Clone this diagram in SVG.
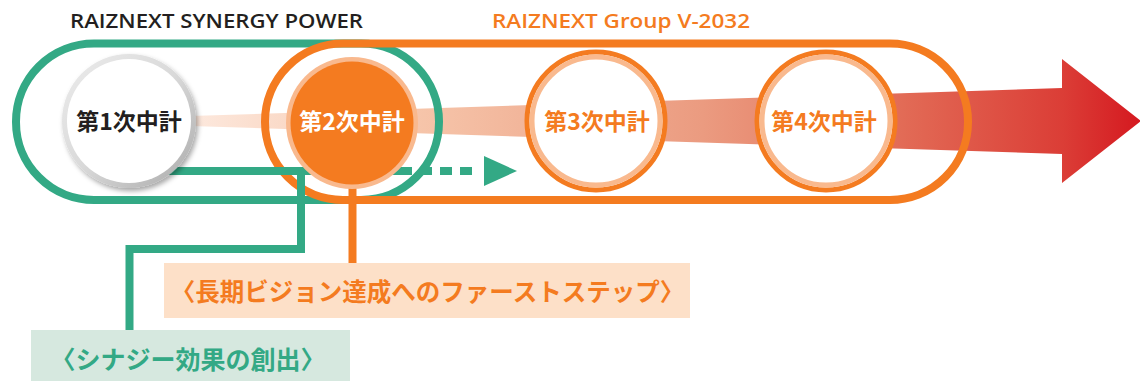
<svg xmlns="http://www.w3.org/2000/svg" width="1140" height="381" viewBox="0 0 1140 381">
  <style>
    .title { font-family: "Open Sans", "Liberation Sans", sans-serif; font-weight: 600; font-size: 20px; }
    .jp { font-family: "Noto Sans CJK JP", "Noto Sans", sans-serif; font-weight: 700; text-anchor: middle; }
    .circle-label { font-size: 23px; }
    .green-stroke { fill: none; stroke: #33a985; stroke-width: 8; }
    .orange-stroke { fill: none; stroke: #f47b20; stroke-width: 8; }
  </style>
  <defs>
    <linearGradient id="bandGrad" gradientUnits="userSpaceOnUse" x1="190" y1="0" x2="1140" y2="0">
      <stop offset="0" stop-color="#fde9de"/>
      <stop offset="0.24" stop-color="#f6c5aa"/>
      <stop offset="0.54" stop-color="#eb9b80"/>
      <stop offset="0.75" stop-color="#e26b56"/>
      <stop offset="0.92" stop-color="#db3d36"/>
      <stop offset="1" stop-color="#d51920"/>
    </linearGradient>
    <linearGradient id="grayRing" x1="0" y1="0" x2="1" y2="1">
      <stop offset="0" stop-color="#ececec"/>
      <stop offset="0.5" stop-color="#d9d9d9"/>
      <stop offset="1" stop-color="#a9a9a9"/>
    </linearGradient>
    <filter id="shadow" x="-20%" y="-20%" width="150%" height="150%">
      <feDropShadow dx="2" dy="3" stdDeviation="2.5" flood-color="#000" flood-opacity="0.35"/>
    </filter>
  </defs>

  <!-- big progress arrow -->
  <g id="progress-arrow">
    <polygon points="190,116 1062,88 1062,59 1141,121 1062,183 1062,154 190,126" fill="url(#bandGrad)"/>
  </g>

  <!-- group frames -->
  <g id="frame-synergy">
    <rect x="16" y="43.5" width="423" height="156.5" rx="78" ry="78" class="green-stroke"/>
  </g>
  <g id="frame-v2032">
    <rect x="265" y="43.5" width="703" height="156.5" rx="78" ry="78" class="orange-stroke"/>
  </g>

  <!-- connectors -->
  <g id="connectors">
    <line x1="130" y1="171" x2="400" y2="171" stroke="#33a985" stroke-width="8"/>
    <line x1="400" y1="171" x2="480" y2="171" stroke="#33a985" stroke-width="8" stroke-dasharray="12 8"/>
    <polygon points="484,156 517,171 484,186" fill="#33a985"/>
    <path d="M301,171 V249 H129.5 V330" class="green-stroke" stroke-linejoin="miter"/>
    <line x1="352.5" y1="185" x2="352.5" y2="263" stroke="#f47b20" stroke-width="8"/>
  </g>

  <!-- circles -->
  <g id="plan1">
    <circle cx="129" cy="121" r="67" fill="url(#grayRing)" filter="url(#shadow)"/>
    <circle cx="129" cy="121" r="62" fill="#ffffff"/>
    <text x="129" y="130" class="jp circle-label" fill="#231f20">第1次中計</text>
  </g>
  <g id="plan2">
    <circle cx="352" cy="123" r="66" fill="#f9b98e"/>
    <circle cx="352" cy="123" r="61.5" fill="#f47b20"/>
    <text x="352" y="130" class="jp circle-label" fill="#ffffff">第2次中計</text>
  </g>
  <g id="plan3">
    <circle cx="596" cy="121" r="69" fill="#ffffff" stroke="#f47b20" stroke-width="5"/>
    <circle cx="596" cy="121" r="64" fill="none" stroke="#f9b98e" stroke-width="5"/>
    <text x="597" y="130" class="jp circle-label" fill="#f47b20">第3次中計</text>
  </g>
  <g id="plan4">
    <circle cx="826" cy="121" r="69" fill="#ffffff" stroke="#f47b20" stroke-width="5"/>
    <circle cx="826" cy="121" r="64" fill="none" stroke="#f9b98e" stroke-width="5"/>
    <text x="824" y="130" class="jp circle-label" fill="#f47b20">第4次中計</text>
  </g>

  <!-- labels -->
  <g id="label-first-step">
    <rect x="164" y="263" width="526" height="55" fill="#fde0c8"/>
    <text x="427.5" y="301" class="jp" font-size="24.5" fill="#f47b20">〈長期ビジョン達成へのファーストステップ〉</text>
  </g>
  <g id="label-synergy">
    <rect x="31" y="330" width="319" height="51" fill="#d6e8df"/>
    <text x="188" y="369" class="jp" font-size="25" fill="#33a985">〈シナジー効果の創出〉</text>
  </g>

  <!-- titles -->
  <g id="title-synergy">
    <text x="70" y="28" class="title" fill="#231f20" textLength="293" lengthAdjust="spacingAndGlyphs">RAIZNEXT SYNERGY POWER</text>
  </g>
  <g id="title-v2032">
    <text x="492" y="28" class="title" fill="#f47b20" textLength="258" lengthAdjust="spacingAndGlyphs">RAIZNEXT Group V-2032</text>
  </g>
</svg>
